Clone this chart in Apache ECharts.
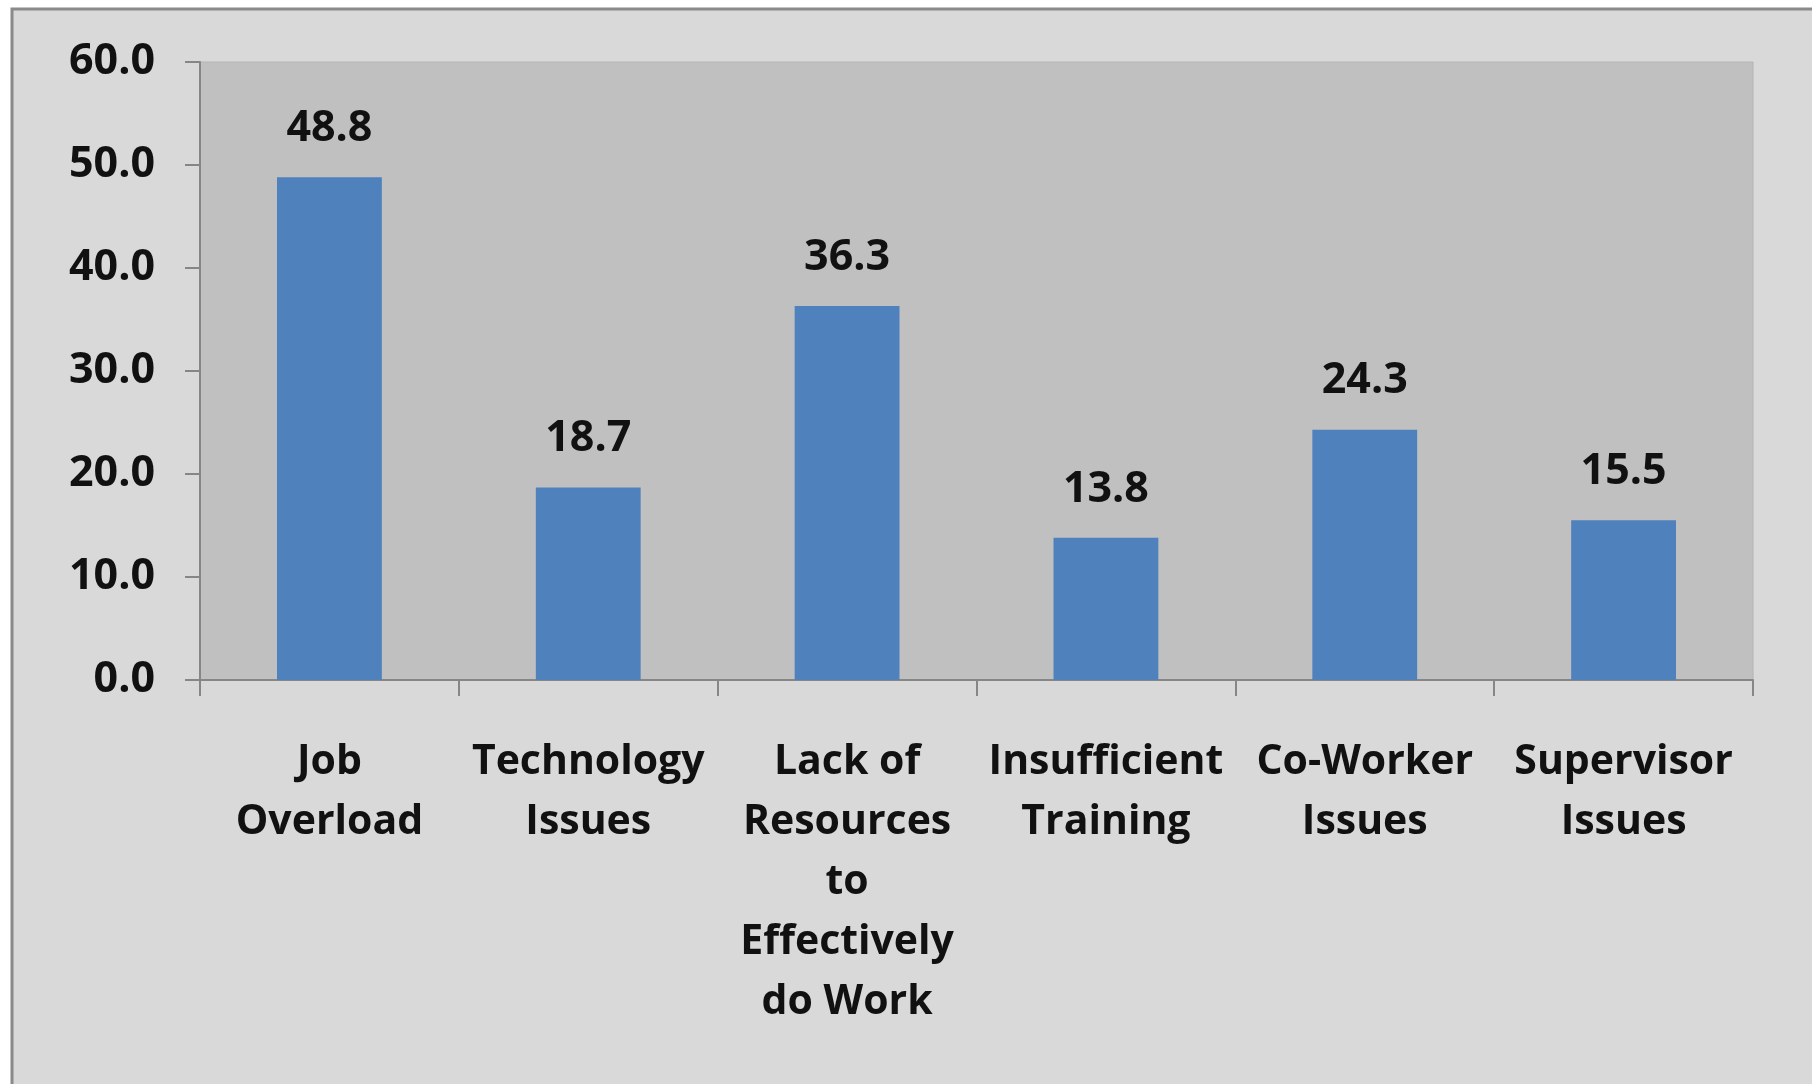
<!DOCTYPE html>
<html>
<head>
<meta charset="utf-8">
<script src="https://cdn.jsdelivr.net/npm/echarts@6/dist/echarts.min.js"></script>
<style>
  html, body { margin: 0; padding: 0; background: #ffffff; }
  #chart { width: 1812px; height: 1084px; }
</style>
</head>
<body>
<div id="chart"></div>
<script>
// Categories of reported stress sources
const categories = [
  'Job\nOverload',
  'Technology\nIssues',
  'Lack of\nResources\nto\nEffectively\ndo Work',
  'Insufficient\nTraining',
  'Co-Worker\nIssues',
  'Supervisor\nIssues'
];
// Percentage of respondents per category
const values = [48.8, 18.7, 36.3, 13.8, 24.3, 15.5];
// Value axis range
const yMin = 0;
const yMax = 60;
const yStep = 10;

const FONT = '"Open Sans", Lato, sans-serif';

const chart = echarts.init(document.getElementById('chart'), null, { renderer: 'canvas' });

chart.setOption({
  backgroundColor: '#ffffff',
  animation: false,
  graphic: [
    {
      type: 'rect',
      z: -10,
      shape: { x: 12, y: 9, width: 1810, height: 1100 },
      style: { fill: '#d9d9d9', stroke: '#8a8a8a', lineWidth: 3 }
    }
  ],
  grid: {
    left: 200,
    right: 59,
    top: 62,
    bottom: 404,
    show: true,
    backgroundColor: '#c0c0c0',
    borderColor: '#b4b4b4',
    borderWidth: 1
  },
  xAxis: {
    type: 'category',
    data: categories,
    boundaryGap: true,
    axisLine: { show: true, lineStyle: { color: '#868686', width: 2 } },
    axisTick: { show: true, length: 16, alignWithLabel: false, lineStyle: { color: '#868686', width: 2 } },
    axisLabel: {
      interval: 0,
      margin: 52,
      color: '#111111',
      fontFamily: FONT,
      fontWeight: 'bold',
      fontSize: 41,
      lineHeight: 60,
      align: 'center'
    }
  },
  yAxis: {
    type: 'value',
    min: yMin,
    max: yMax,
    interval: yStep,
    splitLine: { show: false },
    axisLine: { show: true, lineStyle: { color: '#868686', width: 2 } },
    axisTick: { show: true, inside: false, length: 15, lineStyle: { color: '#868686', width: 2 } },
    axisLabel: {
      margin: 45,
      color: '#111111',
      fontFamily: FONT,
      fontWeight: 'bold',
      fontSize: 43,
      formatter: (v) => v.toFixed(1)
    }
  },
  series: [
    {
      type: 'bar',
      data: values,
      barWidth: '40.5%',
      itemStyle: { color: '#4f81bd' },
      label: {
        show: true,
        position: 'top',
        distance: 27,
        color: '#111111',
        fontFamily: FONT,
        fontWeight: 'bold',
        fontSize: 43,
        formatter: (p) => p.value.toFixed(1)
      }
    }
  ]
});
</script>
</body>
</html>
